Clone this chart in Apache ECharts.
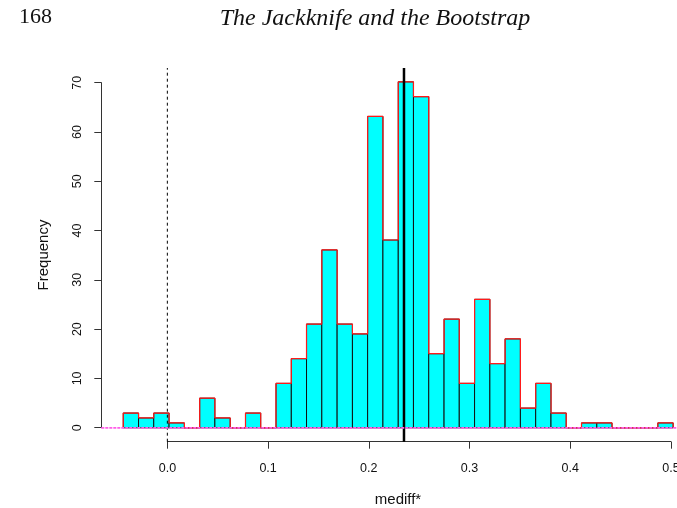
<!DOCTYPE html>
<html>
<head>
<meta charset="utf-8">
<script src="https://cdn.jsdelivr.net/npm/echarts@6/dist/echarts.min.js"></script>
<style>
  html, body { margin: 0; padding: 0; background: #fff; }
  #chart { width: 677px; height: 508px; }
</style>
</head>
<body>
<div id="chart"></div>
<script>
// histogram breaks (bin edges) and counts
const breaks = [
  -0.0438, -0.0286, -0.0135, 0.0017, 0.0169, 0.0321, 0.0472, 0.0624, 0.0776,
  0.0927, 0.1079, 0.1231, 0.1382, 0.1534, 0.1686, 0.1838, 0.1989, 0.2141,
  0.2293, 0.2444, 0.2596, 0.2748, 0.2899, 0.3051, 0.3203, 0.3354, 0.3506,
  0.3658, 0.3810, 0.3961, 0.4113, 0.4265, 0.4416, 0.4568, 0.4720, 0.4871, 0.5023
]
const counts = [
  3, 2, 3, 1, 0, 6, 2, 0, 3, 0, 9, 14, 21, 36, 21, 19, 63, 38,
  70, 67, 15, 22, 9, 26, 13, 18, 4, 9, 3, 0, 1, 1, 0, 0, 0, 1
]
const xTicks = [0, 0.1, 0.2, 0.3, 0.4, 0.5]
const yTicks = [0, 10, 20, 30, 40, 50, 60, 70]
const estimate = 0.235
const nullLine = 0

const pageNumber = '168'
const headerTitle = 'The Jackknife and the Bootstrap'
const xName = 'mediff*'
const yName = 'Frequency'

// plot region limits (R adds 4% on each side)
const xLim = [-0.0656, 0.5241]
const yLim = [-2.8, 72.8]

const bins = counts.map((c, i) => [breaks[i], breaks[i + 1], c])

// outline of the histogram (red step line)
const outline = [[breaks[0], 0]]
counts.forEach((c, i) => {
  outline.push([breaks[i], c])
  outline.push([breaks[i + 1], c])
})
outline.push([breaks[breaks.length - 1], 0])

const font = '"Liberation Sans", Arial, sans-serif'
const serif = '"Liberation Serif", "Times New Roman", serif'

function refLine(data, color, width, type, z) {
  return {
    type: 'line',
    xAxisIndex: 0,
    yAxisIndex: 0,
    data: data,
    showSymbol: false,
    symbol: 'none',
    silent: true,
    z: z,
    lineStyle: { color: color, width: width, type: type }
  }
}

const myChart = echarts.init(document.getElementById('chart'))
const options = {
  animation: false,
  grid: [
    // plot region (runs past the right edge, like the cropped page)
    { left: 101.3, width: 593.8, top: 68, bottom: 66.3, outerBoundsMode: 'none', containLabel: false },
    // x axis (drawn from first to last tick, R style)
    { left: 167.4, width: 503.5, top: 68, bottom: 66.3, outerBoundsMode: 'none', containLabel: false },
    // y axis
    { left: 101.3, width: 10, top: 82.7, bottom: 80.3, outerBoundsMode: 'none', containLabel: false }
  ],
  xAxis: [
    { gridIndex: 0, type: 'value', min: xLim[0], max: xLim[1], show: false },
    {
      gridIndex: 1,
      type: 'value',
      min: xTicks[0],
      max: xTicks[xTicks.length - 1],
      interval: 0.1,
      axisLine: { show: true, lineStyle: { color: '#333', width: 1 } },
      axisTick: { show: true, length: 7, lineStyle: { color: '#333' } },
      axisLabel: {
        margin: 20,
        color: '#111',
        fontFamily: font,
        fontSize: 12.5,
        formatter: v => v.toFixed(1)
      },
      splitLine: { show: false }
    },
    { gridIndex: 2, type: 'value', show: false }
  ],
  yAxis: [
    { gridIndex: 0, type: 'value', min: yLim[0], max: yLim[1], show: false },
    { gridIndex: 1, type: 'value', show: false },
    {
      gridIndex: 2,
      type: 'value',
      min: yTicks[0],
      max: yTicks[yTicks.length - 1],
      interval: 10,
      axisLine: { show: true, lineStyle: { color: '#333', width: 1 } },
      axisTick: { show: true, length: 7, lineStyle: { color: '#333' } },
      axisLabel: {
        margin: 17,
        rotate: 90,
        color: '#111',
        fontFamily: font,
        fontSize: 12.5
      },
      splitLine: { show: false }
    }
  ],
  graphic: [
    {
      type: 'text',
      left: 19,
      top: 6,
      style: { text: pageNumber, font: '22px ' + serif, fill: '#111' }
    },
    {
      type: 'text',
      x: 375,
      y: 19,
      style: {
        text: headerTitle,
        font: 'italic 24px ' + serif,
        fill: '#111',
        textAlign: 'center',
        textVerticalAlign: 'middle'
      }
    },
    {
      type: 'text',
      x: 398,
      y: 500,
      style: {
        text: xName,
        font: '15px ' + font,
        fill: '#111',
        textAlign: 'center',
        textVerticalAlign: 'middle'
      }
    },
    {
      type: 'text',
      x: 44,
      y: 255,
      rotation: Math.PI / 2,
      style: {
        text: yName,
        font: '15px ' + font,
        fill: '#111',
        textAlign: 'center',
        textVerticalAlign: 'middle'
      }
    }
  ],
  series: [
    {
      type: 'custom',
      xAxisIndex: 0,
      yAxisIndex: 0,
      data: bins,
      encode: { x: [0, 1], y: 2 },
      z: 2,
      renderItem(params, api) {
        const p0 = api.coord([api.value(0), api.value(2)])
        const p1 = api.coord([api.value(1), 0])
        return {
          type: 'rect',
          shape: { x: p0[0], y: p0[1], width: p1[0] - p0[0], height: p1[1] - p0[1] },
          style: { fill: '#00ffff', stroke: '#111', lineWidth: 1 }
        }
      }
    },
    refLine(outline, '#ff1a1a', 1.2, 'solid', 3),
    // null value and the observed estimate
    refLine([[nullLine, yLim[0]], [nullLine, yLim[1]]], '#000', 1, [3, 3], 4),
    refLine([[estimate, yLim[0]], [estimate, yLim[1]]], '#000', 2.5, 'solid', 4),
    // dotted baseline at zero
    refLine([[xLim[0], 0], [xLim[1], 0]], '#ff5ee8', 1.6, [3, 1], 5)
  ]
}
myChart.setOption(options)
</script>
</body>
</html>
